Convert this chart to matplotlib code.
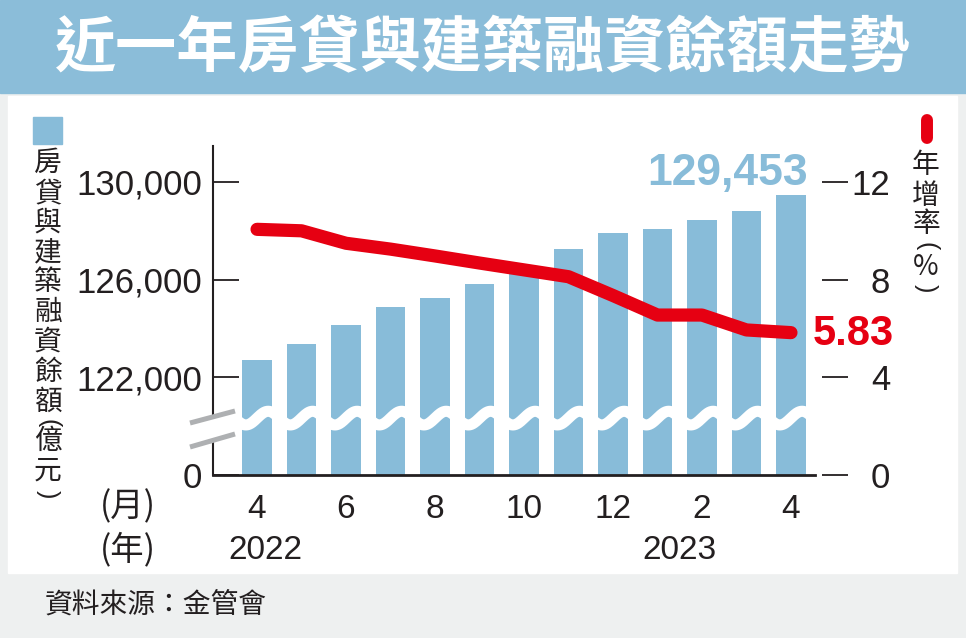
import numpy as np
import matplotlib
matplotlib.use('Agg')
import matplotlib.pyplot as plt
from matplotlib.patches import Rectangle, Polygon
from matplotlib.lines import Line2D
from matplotlib.ticker import NullLocator

# data (Apr 2022 - Apr 2023)
months = ['4', '5', '6', '7', '8', '9', '10', '11', '12', '1', '2', '3', '4']
balance = [122720, 123360, 124150, 124900, 125240, 125840, 126400,
           127240, 127920, 128090, 128460, 128800, 129453]
growth = [10.06, 10.0, 9.49, 9.25, 8.97, 8.68, 8.40, 8.12, 7.35, 6.55, 6.55, 5.94, 5.83]
left_ticks = [0, 122000, 126000, 130000]
right_ticks = [0, 4, 8, 12]
years = ['2022', '2023']

BLUE = '#88bcd9'
RED = '#e60012'
INK = '#231f20'
CJK = ['Noto Sans CJK TC', 'DejaVu Sans']
NUM = ['Liberation Sans', 'DejaVu Sans']

plt.rcParams['font.family'] = NUM

W, H = 966, 638


def px(x, y):
    return (x / W, 1 - y / H)


# broken left axis: 0 sits at the bottom, 119,000+ is linear
BREAK = 119000.0


def fwd(v):
    v = np.asarray(v, dtype=float)
    return np.where(v < BREAK, v / BREAK, v / 1000.0 - 118.0)


def inv(u):
    u = np.asarray(u, dtype=float)
    return np.where(u < 1, u * BREAK, (u + 118.0) * 1000.0)


fig = plt.figure(figsize=(W / 100, H / 100), dpi=100)
fig.patch.set_facecolor('#eef0f0')

# header band and white panel
fig.patches.append(Rectangle(px(0, 93), 1, 93 / H, transform=fig.transFigure,
                             color='#8bbdd9', zorder=-2))
fig.patches.append(Rectangle(px(8, 573), (957 - 8) / W, (573 - 96) / H,
                             transform=fig.transFigure, color='white', zorder=-2))
fig.text(*px(483, 49), '近一年房貸與建築融資餘額走勢', color='white', fontsize=44,
         fontweight='bold', family=CJK, ha='center', va='center')

top_u = (475 - 146) / 24.42
ax = fig.add_axes([213 / W, (H - 475) / H, (815 - 213) / W, (475 - 146) / H])
ax.patch.set_alpha(0)
x = np.arange(len(months))
ax.bar(x, balance, width=0.67, color=BLUE, zorder=2)
ax.set_yscale('function', functions=(fwd, inv))
ax.set_ylim(0, float(inv(top_u)))
ax.set_xlim(-0.99, 12.54)
ax.set_yticks(left_ticks)
ax.set_yticklabels(['0' if v == 0 else f'{v:,}' for v in left_ticks])
ax.yaxis.set_minor_locator(NullLocator())
ax.tick_params(axis='y', direction='in', length=19, width=1.3, pad=8,
               labelsize=25, colors=INK)
ax.set_xticks(x[::2])
ax.set_xticklabels(months[::2])
ax.tick_params(axis='x', length=0, pad=14, labelsize=24, colors=INK)
for s in ['top', 'right']:
    ax.spines[s].set_visible(False)
ax.spines['left'].set_linewidth(1.5)
ax.spines['bottom'].set_linewidth(2)
ax.spines['left'].set_color(INK)
ax.spines['bottom'].set_color(INK)

ax2 = ax.twinx()
ax2.set_ylim(0, top_u)
for s in ax2.spines.values():
    s.set_visible(False)
ax2.spines['right'].set_position(('outward', 5))
ax2.set_yticks(right_ticks)
ax2.tick_params(axis='y', direction='out', length=19, width=1.3, pad=30,
                labelsize=25, colors=INK)
for lbl in ax2.get_yticklabels():
    lbl.set_ha('right')

# white wavy break through the bars
xw = np.linspace(-0.45, 12.45, 800)
ax2.plot(xw, 2.33 + 0.28 * np.sin(2 * np.pi * xw), color='white', lw=8,
         solid_capstyle='butt', zorder=3)

ax2.plot(x, growth, color=RED, lw=9.5, solid_capstyle='round',
         solid_joinstyle='round', zorder=4)

ax2.text(12.38, 11.88, f'{balance[-1]:,}', color=BLUE, fontsize=32,
         fontweight='bold', ha='right', va='baseline')
ax2.text(12.49, 5.32, f'{growth[-1]:.2f}', color=RED, fontsize=30,
         fontweight='bold', ha='left', va='baseline', clip_on=False)

# axis break marks
fig.patches.append(Polygon([px(203, 422), px(228, 413), px(228, 434), px(203, 443)],
                           closed=True, transform=fig.transFigure, color='white', zorder=5))
for y0, y1 in [(423, 411), (447, 434)]:
    fig.lines.append(Line2D([190 / W, 235 / W], [1 - y0 / H, 1 - y1 / H],
                            transform=fig.transFigure, color='#aeb0b2', lw=3.6,
                            solid_capstyle='butt', zorder=6))

# legend keys
fig.patches.append(Rectangle(px(33, 144), 29 / W, 27 / H, transform=fig.transFigure,
                             color=BLUE, zorder=2))
fig.lines.append(Line2D([927 / W, 927 / W], [1 - 120 / H, 1 - 138 / H],
                        transform=fig.transFigure, color=RED, lw=8.6,
                        solid_capstyle='round', zorder=2))


def vtext(xc, chars, ys, size):
    for ch, yy in zip(chars, ys):
        if ch in '()':
            fig.text(*px(xc, yy), ch, fontsize=size - 2, family=NUM, color=INK,
                     rotation=-90, ha='center', va='center')
        else:
            fig.text(*px(xc, yy), ch, fontsize=size, family=CJK, color=INK,
                     ha='center', va='center')


# vertical axis titles
vtext(48, list('房貸與建築融資餘額(億元)'),
      [163, 193, 223, 252, 282, 312, 342, 372, 402, 423, 441, 471, 494], 20)
vtext(926, list('年增率(%)'), [165, 196, 224.5, 246, 267, 288], 20)

# month / year row
fig.text(*px(128, 507), '(月)', fontsize=24, family=CJK, color=INK, ha='center', va='center')
fig.text(*px(128, 550), '(年)', fontsize=24, family=CJK, color=INK, ha='center', va='center')
for label, xx in zip(years, [0.18, 9.5]):
    ax.text(xx, -0.228, label, transform=ax.get_xaxis_transform(), fontsize=24,
            color=INK, ha='center', va='center')

fig.text(*px(45, 605), '資料來源：金管會', fontsize=20, family=CJK, color=INK,
         ha='left', va='center')

fig.savefig('out.png', dpi=100, facecolor=fig.get_facecolor())
